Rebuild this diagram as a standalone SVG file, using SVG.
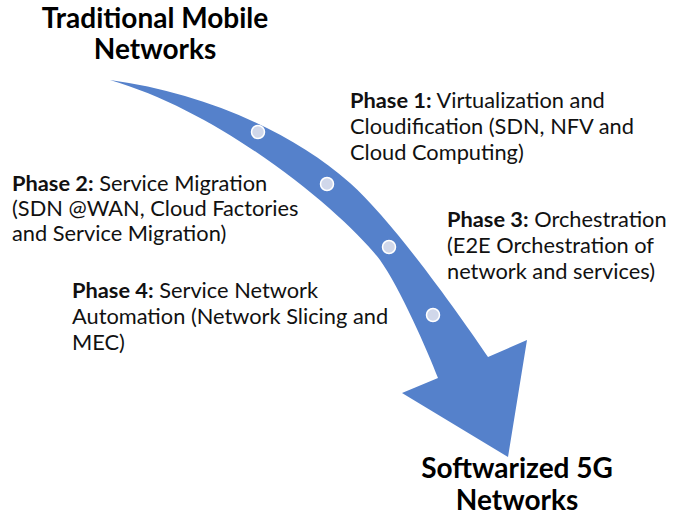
<svg xmlns="http://www.w3.org/2000/svg" width="690" height="519" viewBox="0 0 690 519">
<style>
.t{font-family:Lato,"Open Sans","Liberation Sans",sans-serif;font-size:21.8px;fill:#111}
.b{font-weight:bold}
.h{font-family:Lato,"Open Sans","Liberation Sans",sans-serif;font-size:28px;font-weight:bold;fill:#000;text-anchor:middle}
.dot{fill:#D0D7EA;stroke:#fff;stroke-width:1.5}
</style>
<rect width="690" height="519" fill="#fff"/>
<g id="connectors">
<path id="arrow" d="M110,80 C200,92 290,130 350,183 C395,223 465,323 488,357 L527,340 L508,457 L402,393 L438,378 C428,352 400,288 380,260 C348,218 230,115 110,80 Z" fill="#5581CB"/>
<circle class="dot" cx="258" cy="132" r="6.5"/>
<circle class="dot" cx="327" cy="184" r="6.5"/>
<circle class="dot" cx="389" cy="247" r="6.5"/>
<circle class="dot" cx="433" cy="315" r="6.5"/>
</g>
<g id="start">
<text class="h" x="155" y="28">Traditional Mobile</text>
<text class="h" x="155" y="59">Networks</text>
</g>
<g id="end">
<text class="h" x="517" y="478">Softwarized 5G</text>
<text class="h" x="517" y="510">Networks</text>
</g>
<g id="phase1">
<text class="t" x="350" y="108"><tspan class="b">Phase 1:</tspan> Virtualization and</text>
<text class="t" x="350" y="134">Cloudification (SDN, NFV and</text>
<text class="t" x="350" y="160">Cloud Computing)</text>
</g>
<g id="phase2">
<text class="t" x="12" y="191"><tspan class="b">Phase 2:</tspan> Service Migration</text>
<text class="t" x="12" y="216">(SDN @WAN, Cloud Factories</text>
<text class="t" x="12" y="241">and Service Migration)</text>
</g>
<g id="phase3">
<text class="t" x="447" y="227"><tspan class="b">Phase 3:</tspan> Orchestration</text>
<text class="t" x="447" y="253">(E2E Orchestration of</text>
<text class="t" x="447" y="279">network and services)</text>
</g>
<g id="phase4">
<text class="t" x="72" y="298"><tspan class="b">Phase 4:</tspan> Service Network</text>
<text class="t" x="72" y="324">Automation (Network Slicing and</text>
<text class="t" x="72" y="350">MEC)</text>
</g>
</svg>
